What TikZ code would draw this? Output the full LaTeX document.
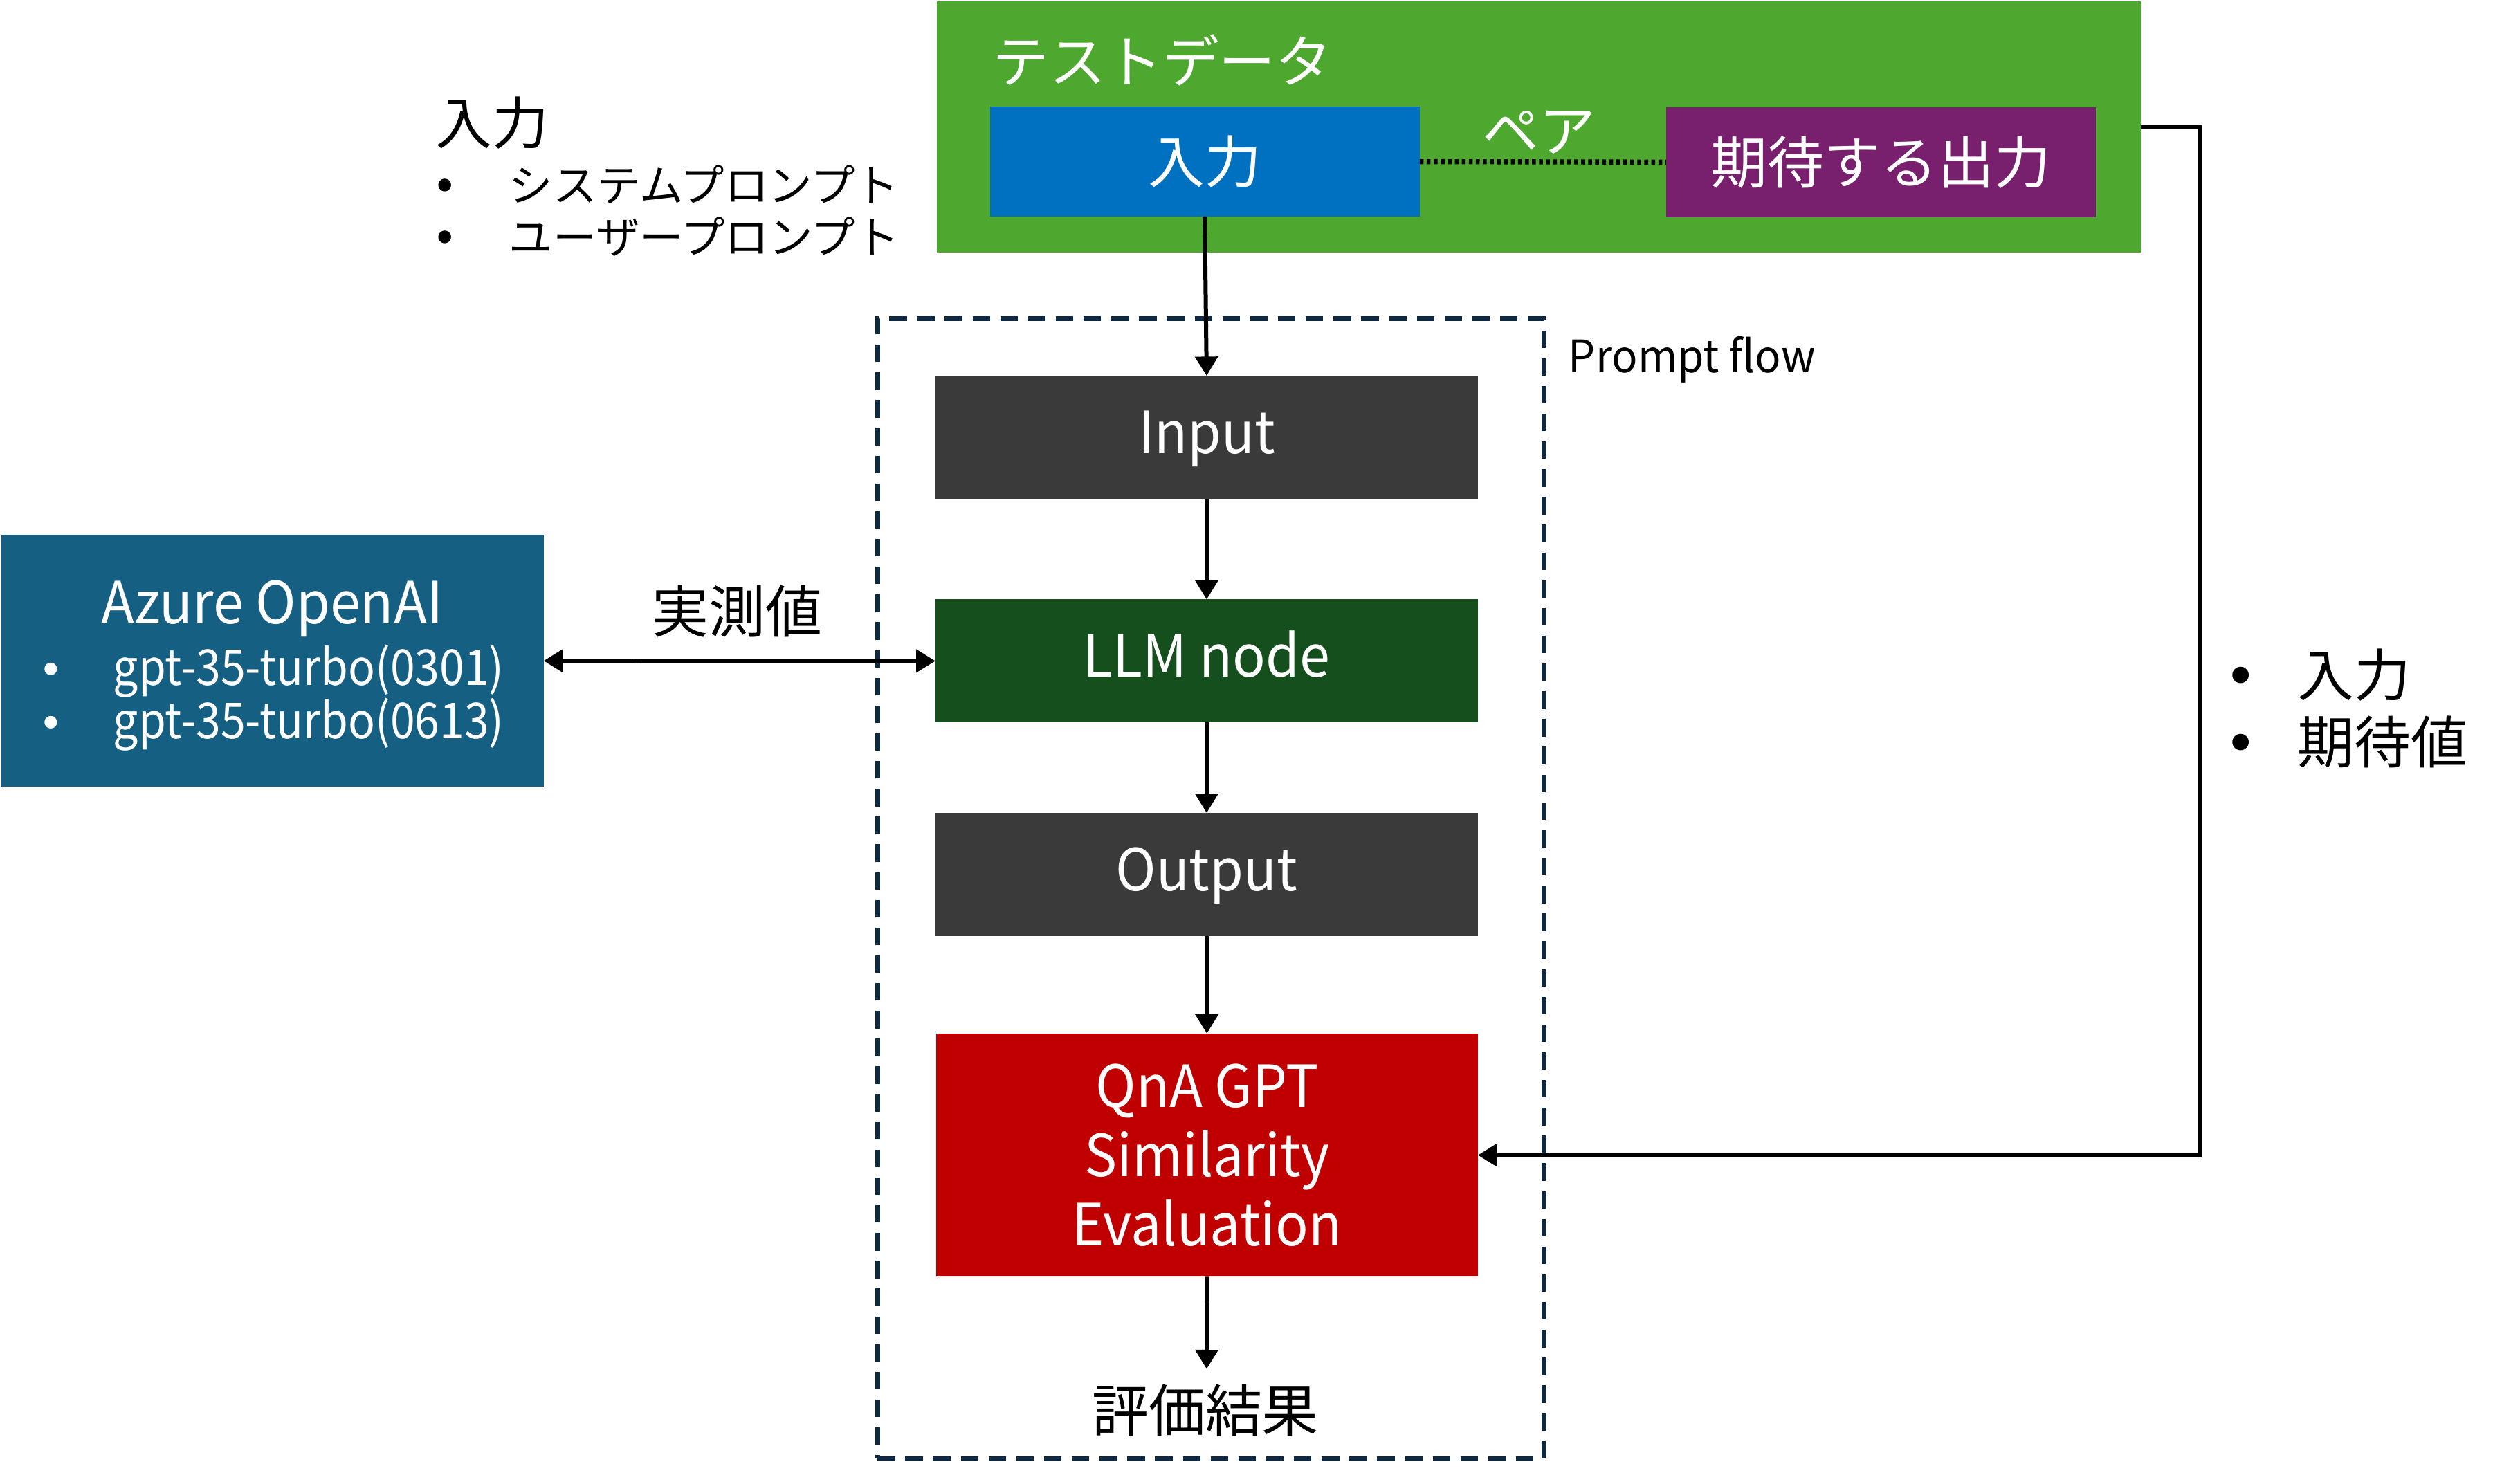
\documentclass[tikz,border=0pt]{standalone}
\usepackage{fontspec}
\setmainfont{Noto Sans CJK JP}
\newfontfamily\latinbox[FakeStretch=0.94]{Noto Sans CJK JP}
\newfontfamily\latinmodel[FakeStretch=0.9]{Noto Sans CJK JP}
\newfontfamily\latinflow[FakeStretch=0.96]{Noto Sans CJK JP}
\newfontfamily\bulletfont{DejaVu Sans}
\newcommand\bulletmark{{\bulletfont •}}
\usetikzlibrary{arrows.meta}
\definecolor{tdgreen}{HTML}{4EA72E}
\definecolor{inblue}{HTML}{0070C0}
\definecolor{expurple}{HTML}{78206E}
\definecolor{nodegray}{HTML}{3A3A3A}
\definecolor{llmgreen}{HTML}{154F1E}
\definecolor{evalred}{HTML}{C00000}
\definecolor{azureblue}{HTML}{156082}
\definecolor{flownavy}{HTML}{0E2841}
\begin{document}
\begin{tikzpicture}[x=0.5pt,y=-0.5pt,
  fbox/.style={rectangle,inner sep=0pt,outer sep=0pt,text=white},
  stepbox/.style={fbox,minimum width=170pt,minimum height=38.6pt,
    font=\latinbox\fontsize{18.2}{21.7}\selectfont,text height=13.6pt,text depth=3.6pt},
  pairbox/.style={fbox,minimum width=134.7pt,minimum height=34.4pt,
    font=\fontsize{17.75}{21}\selectfont},
  txt/.style={inner sep=0pt,outer sep=0pt},
  jbig/.style={font=\fontsize{17.75}{21}\selectfont},
  jsmall/.style={font=\fontsize{13.75}{16}\selectfont},
  conn/.style={line width=1.3pt,-{Triangle[width=7pt,length=6pt]}},
  dconn/.style={line width=1.3pt,{Triangle[width=7pt,length=6pt]}-{Triangle[width=7pt,length=6pt]}},
  pairline/.style={line width=1.6pt,dash pattern=on 1.2pt off 1pt},
  flowframe/.style={draw=flownavy,line width=1.5pt,dash pattern=on 5.5pt off 3.2pt,
    rectangle,inner sep=0pt,outer sep=0pt}
]
\useasboundingbox (0,0) rectangle (1568,930);

% Prompt flow frame
\node[flowframe,minimum width=208.75pt,minimum height=357.3pt] (pf) at (758.65,556.9) {};
\node[txt,anchor=west,font=\latinflow\fontsize{14}{16}\selectfont] (pflabel) at (983,225.5) {Prompt flow};

% test data
\node[fbox,fill=tdgreen,minimum width=377.2pt,minimum height=78.6pt] (green) at (964.5,79.6) {};
\node[txt,anchor=west,text=white,jbig] (tdlabel) at (622,37.5) {テストデータ};
\node[pairbox,fill=inblue] (blue) at (755,101.3) {入力};
\node[pairbox,fill=expurple] (purple) at (1178.8,101.6) {期待する出力};
\draw[pairline] (blue.east) -- (purple.west);
\node[txt,text=white,jbig] (pairlabel) at (964.5,83) {ペア};

% top-left input list
\node[txt,anchor=west,jbig] (inlabel) at (273,77) {入力};
\node[txt,anchor=west,jsmall] (sysp) at (271,115.5) {\makebox[24pt][l]{\bulletmark}システムプロンプト};
\node[txt,anchor=west,jsmall] (usrp) at (271,148.3) {\makebox[24pt][l]{\bulletmark}ユーザープロンプト};

% flow steps
\node[stepbox,fill=nodegray] (input) at (756.2,274.1) {Input};
\node[stepbox,fill=llmgreen] (llm) at (756.2,414.3) {LLM node};
\node[stepbox,fill=nodegray] (output) at (756.2,548.1) {Output};
\node[fbox,fill=evalred,minimum width=169.8pt,minimum height=76.25pt,align=center,
  font=\latinbox\fontsize{18.2}{21.7}\selectfont] (qna) at (756.4,724) {QnA GPT\\Similarity\\Evaluation};
\coordinate (resin) at (756.2,858);
\node[txt,jbig] (result) at (755.4,884) {評価結果};

\draw[conn] (blue.south) -- (input.north);
\draw[conn] (input) -- (llm);
\draw[conn] (llm) -- (output);
\draw[conn] (output) -- (qna);
\draw[conn] (qna.south) -- (resin);

% Azure
\node[fbox,fill=azureblue,minimum width=170pt,minimum height=78.8pt] (azure) at (170.7,414.2) {};
\node[txt,text=white,font=\latinbox\fontsize{18.2}{21}\selectfont] (azlabel) at (170.5,381.5) {Azure OpenAI};
\node[txt,anchor=west,text=white,font=\latinmodel\fontsize{15.5}{18}\selectfont] (m1) at (24,420.5) {\makebox[23.5pt][l]{\fontsize{13.5}{14}\selectfont\bulletmark}gpt-35-turbo(0301)};
\node[txt,anchor=west,text=white,font=\latinmodel\fontsize{15.5}{18}\selectfont] (m2) at (24,454) {\makebox[23.5pt][l]{\fontsize{13.5}{14}\selectfont\bulletmark}gpt-35-turbo(0613)};
\draw[dconn] (azure.east) -- (llm.west);
\node[txt,jbig] (actual) at (462,383) {実測値};

% expected path
\coordinate (rt) at (1378.3,79.6);
\draw[conn] (green.east) -- (rt) |- (qna.east);
\node[txt,anchor=west,jbig] (e1) at (1394,423) {\makebox[23pt][l]{\bulletmark}入力};
\node[txt,anchor=west,jbig] (e2) at (1394,465) {\makebox[23pt][l]{\bulletmark}期待値};
\end{tikzpicture}
\end{document}
